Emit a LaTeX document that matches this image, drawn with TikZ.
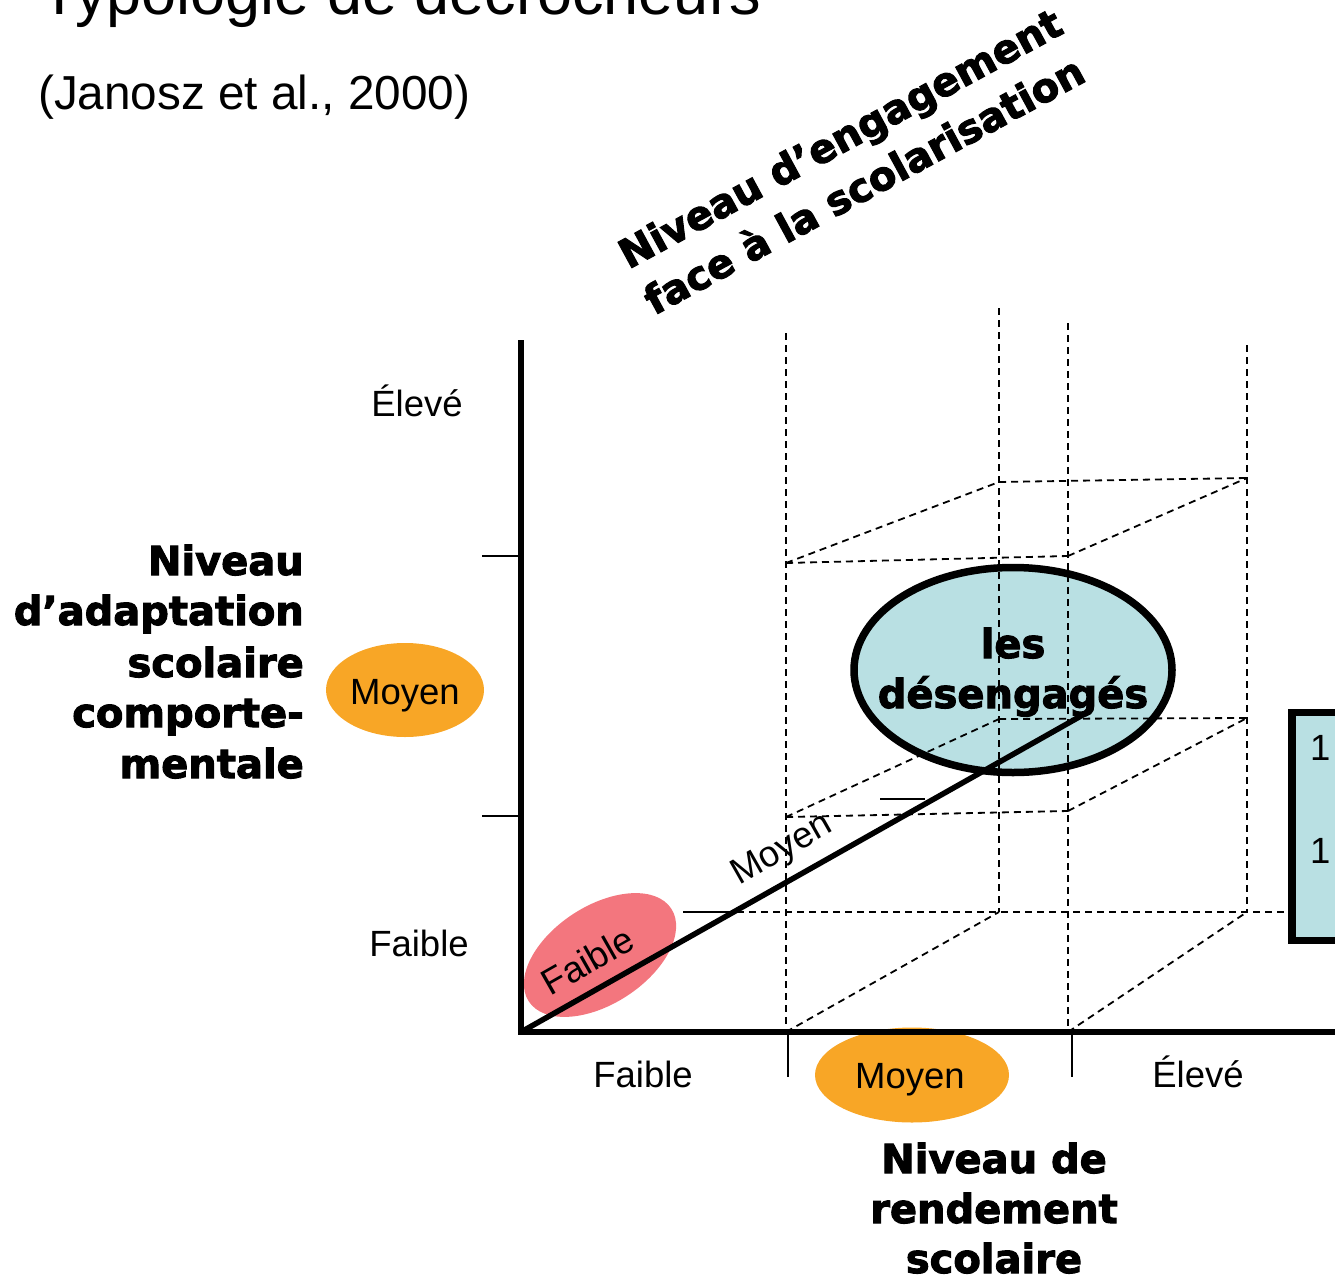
\documentclass[tikz,border=0pt]{standalone}
\usepackage{fontspec}
\setmainfont{Liberation Sans}
\newfontfamily\blkfont[BoldFeatures={FakeBold=2.5}]{DejaVu Sans}
\usetikzlibrary{shapes.geometric,calc}
\definecolor{tealfill}{RGB}{185,224,227}
\definecolor{orangefill}{RGB}{248,166,38}
\definecolor{pinkfill}{RGB}{243,118,126}
\begin{document}
\begin{tikzpicture}[x=1pt,y=-1pt,
  lbl/.style={font=\fontsize{36.5}{40}\selectfont, inner sep=0pt, anchor=base},
  boldlbl/.style={font=\blkfont\bfseries\fontsize{40}{51}\selectfont, inner sep=0pt, anchor=base},
  axisline/.style={line width=5.5pt},
  tickline/.style={line width=1.8pt},
  gridline/.style={line width=1.8pt, dash pattern=on 7pt off 5pt},
  blob/.style={ellipse, inner sep=0pt},
]
\useasboundingbox (0,0) rectangle (1335,1279);

% title
\node[font=\fontsize{63}{70}\selectfont, inner sep=0pt, anchor=base west] (title) at (40,15) {Typologie de décrocheurs};
\node[font=\fontsize{47.7}{52}\selectfont, inner sep=0pt, anchor=base west] (cite) at (38,110) {(Janosz et al., 2000)};

% coordinates
\coordinate (O) at (521,1032);
\coordinate (Ytop) at (521,340);
\coordinate (Xend) at (1345,1032);
\coordinate (Dend) at (1088,712);

% filled shapes
\node[blob, fill=tealfill, draw, line width=7.5pt, minimum width=318pt, minimum height=205pt] (des) at (1013,670) {};
\node[blob, fill=pinkfill, rotate=33, minimum width=170pt, minimum height=98pt] (pk) at (600,955) {};
\node[blob, fill=orangefill, minimum width=158pt, minimum height=94pt] (orL) at (405,690) {};
\node[blob, fill=orangefill, minimum width=194pt, minimum height=95pt] (orB) at (912,1075) {};
\node[draw, line width=7.5pt, fill=tealfill, inner sep=0pt, minimum width=120pt, minimum height=228pt, anchor=north west] (box) at (1288,708.5) {};

% grid coordinates
\coordinate (f1b) at (786,1032); \coordinate (f1m) at (786,817); \coordinate (f1t) at (786,563); \coordinate (f1top) at (786,333);
\coordinate (f2b) at (1068,1032); \coordinate (f2m) at (1068,811); \coordinate (f2t) at (1068,556); \coordinate (f2top) at (1068,323);
\coordinate (b1b) at (999,912); \coordinate (b1m) at (999,719); \coordinate (b1t) at (999,482); \coordinate (b1top) at (999,308);
\coordinate (b2b) at (1247,912); \coordinate (b2m) at (1247,718); \coordinate (b2t) at (1247,478); \coordinate (b2top) at (1247,345);
\coordinate (dt1a) at (683,912); \coordinate (dt1b) at (725,912);
\coordinate (dt2a) at (880,799); \coordinate (dt2b) at (925,799);

% dashed grid
\draw[gridline] (f1top) -- (f1b);
\draw[gridline] (f2top) -- (f2b);
\draw[gridline] (b1top) -- (b1b);
\draw[gridline] (b2top) -- (b2b);
\draw[gridline] (f1m) -- (f2m);
\draw[gridline] (f1t) -- (f2t);
\draw[gridline] (b1m) -- (b2m);
\draw[gridline] (b1t) -- (b2t);
\draw[gridline] (dt1b) -- (dt1b -| box.west);
\draw[gridline] (f1b) -- (b1b);
\draw[gridline] (f2b) -- (b2b);
\draw[gridline] (f1m) -- (b1m);
\draw[gridline] (f2m) -- (b2m);
\draw[gridline] (f1t) -- (b1t);
\draw[gridline] (f2t) -- (b2t);

% axes
\draw[axisline] (Ytop) -- (O) -- (Xend);
\draw[axisline] (O) -- (Dend);

% ticks
\draw[tickline] (482,556) -- (521,556);
\draw[tickline] (482,816) -- (521,816);
\draw[tickline] (788,1032) -- (788,1077);
\draw[tickline] (1072,1032) -- (1072,1077);
\draw[tickline] (dt1a) -- (dt1b);
\draw[tickline] (dt2a) -- (dt2b);

% level labels
\node[lbl] (yhigh) at (417,416) {Élevé};
\node[lbl] (ymid) at (405,704) {Moyen};
\node[lbl] (ylow) at (419,956) {Faible};
\node[lbl] (xlow) at (643,1087) {Faible};
\node[lbl] (xmid) at (910,1088) {Moyen};
\node[lbl] (xhigh) at (1198,1087) {Élevé};
\node[lbl, rotate=29.6] (dlow) at (594,972) {Faible};
\node[lbl, rotate=29.6] (dmid) at (787,858) {Moyen};
\node[lbl, anchor=base west] (box1) at (1310,760) {1};
\node[lbl, anchor=base west] (box2) at (1310,863) {1};

% bold titles
\node[boldlbl, anchor=base east] (yl1) at (304,575) {Niveau};
\node[boldlbl, anchor=base east] (yl2) at (304,625) {d’adaptation};
\node[boldlbl, anchor=base east] (yl3) at (304,677) {scolaire};
\node[boldlbl, anchor=base east] (yl4) at (304,727) {comporte-};
\node[boldlbl, anchor=base east] (yl5) at (304,778) {mentale};

\node[boldlbl] (xl1) at (994,1173) {Niveau de};
\node[boldlbl] (xl2) at (994,1223) {rendement};
\node[boldlbl] (xl3) at (994,1273) {scolaire};

\node[boldlbl, rotate=28.5] (zl1) at (847,151) {Niveau d’engagement};
\node[boldlbl, rotate=28.5] (zl2) at (871,198) {face à la scolarisation};

\node[boldlbl] (des1) at (1013,658) {les};
\node[boldlbl] (des2) at (1013,708) {désengagés};
\end{tikzpicture}
\end{document}
